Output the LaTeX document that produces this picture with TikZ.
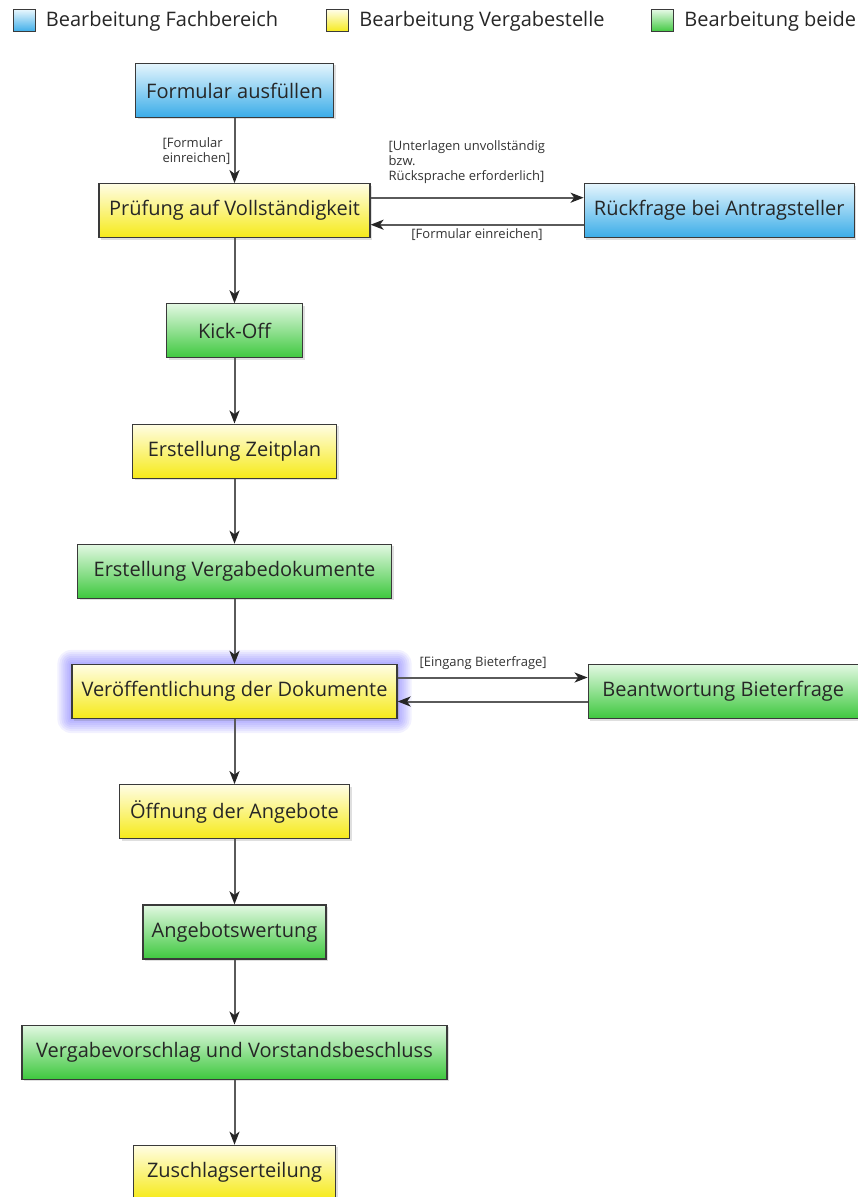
\documentclass[tikz,border=0pt]{standalone}
\usepackage{fontspec}
\setmainfont{Open Sans}
\usetikzlibrary{positioning,arrows.meta,shadows,backgrounds}

\definecolor{fbtop}{RGB}{228,245,253}
\definecolor{fbbot}{RGB}{58,172,232}
\definecolor{vgtop}{RGB}{255,253,228}
\definecolor{vgbot}{RGB}{246,234,24}
\definecolor{bdtop}{RGB}{226,248,226}
\definecolor{bdbot}{RGB}{62,200,62}
\definecolor{boxline}{RGB}{58,58,58}
\definecolor{arrline}{RGB}{90,90,90}
\definecolor{glowblue}{RGB}{70,60,255}

\tikzset{
  box/.style={draw=boxline, line width=0.6pt, minimum height=27pt, inner sep=0pt,
    font=\fontsize{10}{12}\selectfont, text=black!85,
    drop shadow={shadow xshift=1pt, shadow yshift=-1pt, opacity=0.25}},
  fach/.style={box, top color=fbtop, bottom color=fbbot},
  verg/.style={box, top color=vgtop, bottom color=vgbot},
  beide/.style={box, top color=bdtop, bottom color=bdbot},
  legsq/.style={draw=boxline, line width=0.5pt, minimum size=11pt, inner sep=0pt},
  legtxt/.style={font=\fontsize{10}{12}\selectfont, text=black!85, inner sep=0pt},
  flow/.style={draw=arrline, line width=1pt, -{Stealth[length=6.5pt,width=5pt,inset=1.8pt,black!85]}},
  guard/.style={font=\fontsize{6.5}{7.5}\selectfont, text=black!80, inner sep=1.5pt},
}

\begin{document}
\begin{tikzpicture}[x=0.5pt, y=-0.5pt, node distance=32.5pt]
  \useasboundingbox (0,0) rectangle (857,1197);

  % legend
  \node[legsq, top color=fbtop, bottom color=fbbot] (leg1) at (24,21) {};
  \node[legtxt, right=5pt of leg1] (legtxt1) {Bearbeitung Fachbereich};
  \node[legsq, top color=vgtop, bottom color=vgbot] (leg2) at (337.5,21) {};
  \node[legtxt, right=5pt of leg2] (legtxt2) {Bearbeitung Vergabestelle};
  \node[legsq, top color=bdtop, bottom color=bdbot] (leg3) at (662.5,21) {};
  \node[legtxt, right=5pt of leg3] (legtxt3) {Bearbeitung beide};

  % main flow
  \node[fach, minimum width=99pt] (formular) at (234.5,90.5) {Formular ausfüllen};
  \node[verg, minimum width=135.5pt, below=of formular] (pruefung) {Prüfung auf Vollständigkeit};
  \node[beide, minimum width=68pt, below=of pruefung] (kickoff) {Kick-Off};
  \node[verg, minimum width=102pt, below=of kickoff] (zeitplan) {Erstellung Zeitplan};
  \node[beide, minimum width=157pt, below=of zeitplan] (vergdok) {Erstellung Vergabedokumente};
  \node[verg, minimum width=162.5pt, below=of vergdok] (veroeff) {Veröffentlichung der Dokumente};
  \node[verg, minimum width=115pt, below=of veroeff] (oeffnung) {Öffnung der Angebote};
  \node[beide, minimum width=91.5pt, below=of oeffnung] (wertung) {Angebotswertung};
  \node[beide, minimum width=212.5pt, below=of wertung] (vorschlag) {Vergabevorschlag und Vorstandsbeschluss};
  \node[verg, minimum width=101pt, below=of vorschlag] (zuschlag) {Zuschlagserteilung};

  % side steps
  \node[fach, minimum width=135pt, right=106.5pt of pruefung] (rueckfrage) {Rückfrage bei Antragsteller};
  \node[beide, minimum width=135pt, right=95pt of veroeff] (antwort) {Beantwortung Bieterfrage};

  % glow round the selected step
  \begin{scope}[on background layer]
    \foreach \g in {1,...,7}
      \fill[glowblue, opacity=0.07, rounded corners=\g pt]
        ([shift={(-\g pt,\g pt)}]veroeff.north west) rectangle ([shift={(\g pt,-\g pt)}]veroeff.south east);
  \end{scope}

  \draw[flow] (formular) -- node[guard, left, align=left] {[Formular\\einreichen]} (pruefung);
  \draw[flow] (pruefung) -- (kickoff);
  \draw[flow] (kickoff) -- (zeitplan);
  \draw[flow] (zeitplan) -- (vergdok);
  \draw[flow] (vergdok) -- (veroeff);
  \draw[flow] (veroeff) -- (oeffnung);
  \draw[flow] (oeffnung) -- (wertung);
  \draw[flow] (wertung) -- (vorschlag);
  \draw[flow] (vorschlag) -- (zuschlag);

  \draw[flow] ([yshift=6.5pt]pruefung.east) -- node[guard, pos=0, above right, align=left, xshift=7pt, yshift=5pt]
    {[Unterlagen unvollständig\\bzw.\\Rücksprache erforderlich]} ([yshift=6.5pt]rueckfrage.west);
  \draw[flow] ([yshift=-7pt]rueckfrage.west) -- node[guard, below] {[Formular einreichen]} ([yshift=-7pt]pruefung.east);
  \draw[flow] ([yshift=7pt]veroeff.east) -- node[guard, above, pos=0.45, yshift=2pt] {[Eingang Bieterfrage]} ([yshift=7pt]antwort.west);
  \draw[flow] ([yshift=-5pt]antwort.west) -- ([yshift=-5pt]veroeff.east);
\end{tikzpicture}
\end{document}
